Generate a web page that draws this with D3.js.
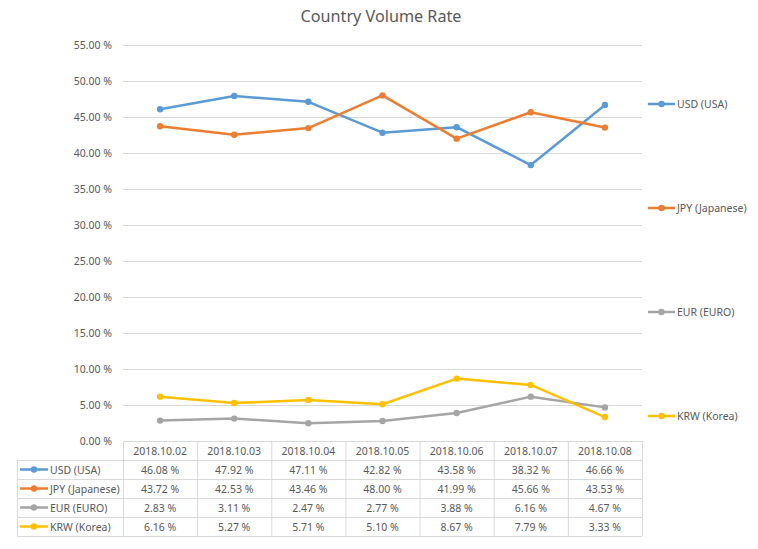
<!DOCTYPE html>
<html><head><meta charset="utf-8">
<script src="https://cdn.jsdelivr.net/npm/d3@7"></script>
<style>body{margin:0;background:#fff;} svg{display:block;} text{font-family:"Noto Sans","Open Sans",sans-serif;fill:#595959;}</style>
</head><body><svg id="c" width="758" height="549"></svg>
<script>
const categories = ["2018.10.02","2018.10.03","2018.10.04","2018.10.05","2018.10.06","2018.10.07","2018.10.08"];
const seriesNames = ["USD (USA)","JPY (Japanese)","EUR (EURO)","KRW (Korea)"];
const usd = [46.08,47.92,47.11,42.82,43.58,38.32,46.66];
const jpy = [43.72,42.53,43.46,48.00,41.99,45.66,43.53];
const eur = [2.83,3.11,2.47,2.77,3.88,6.16,4.67];
const krw = [6.16,5.27,5.71,5.10,8.67,7.79,3.33];
const yTicks = [0,5,10,15,20,25,30,35,40,45,50,55];
const colors = ["#5B9BD5","#ED7D31","#A5A5A5","#FFC000"];
const series = [usd,jpy,eur,krw].map((v,i)=>({name:seriesNames[i],values:v,color:colors[i]}));

const svg = d3.select("#c");
const L=123,R=642,T=45,B=441;
const x = d3.scaleBand().domain(categories).range([L,R]);
const y = d3.scaleLinear().domain([0,55]).range([B,T]);
const fmt = v => v.toFixed(2)+" %";

svg.append("text").attr("x",381).attr("y",22).attr("text-anchor","middle")
  .style("font-size","16.2px").text("Country Volume Rate");

// gridlines
svg.append("g").selectAll("line").data(yTicks).join("line")
  .attr("x1",L).attr("x2",R).attr("y1",d=>y(d)+0.5).attr("y2",d=>y(d)+0.5)
  .attr("stroke","#D9D9D9").attr("stroke-width",1);
svg.append("g").selectAll("text").data(yTicks).join("text")
  .attr("x",112).attr("y",d=>y(d)+4).attr("text-anchor","end")
  .style("font-size","10.5px").text(d=>fmt(d));

// lines
const line = d3.line().x((d,i)=>x(categories[i])+x.bandwidth()/2).y(d=>y(d));
series.forEach(s=>{
  const g = svg.append("g");
  g.append("path").attr("d",line(s.values)).attr("fill","none")
    .attr("stroke",s.color).attr("stroke-width",2.5).attr("stroke-linejoin","round");
  g.selectAll("circle").data(s.values).join("circle")
    .attr("cx",(d,i)=>x(categories[i])+x.bandwidth()/2).attr("cy",d=>y(d))
    .attr("r",3.2).attr("fill",s.color);
});

// right legend
const legY = [104,208,312,416];
series.forEach((s,i)=>{
  const g = svg.append("g").attr("transform",`translate(648,${legY[i]})`);
  g.append("line").attr("x1",0).attr("x2",27).attr("stroke",s.color).attr("stroke-width",2.5);
  g.append("circle").attr("cx",13.5).attr("r",3.2).attr("fill",s.color);
  g.append("text").attr("x",29).attr("y",4).style("font-size","10.5px").text(s.name);
});

// data table
const rowH=19, tTop=B, tLeft=17;
const tb = svg.append("g");
const stroke="#D9D9D9";
tb.append("line").attr("x1",L).attr("x2",R).attr("y1",tTop+0.5).attr("y2",tTop+0.5).attr("stroke",stroke);
for(let r=1;r<=5;r++){
  tb.append("line").attr("x1",tLeft).attr("x2",R).attr("y1",tTop+r*rowH+0.5).attr("y2",tTop+r*rowH+0.5).attr("stroke",stroke);
}
tb.append("line").attr("x1",tLeft+0.5).attr("x2",tLeft+0.5).attr("y1",tTop+rowH).attr("y2",tTop+5*rowH+0.5).attr("stroke",stroke);
categories.forEach((c,i)=>{
  tb.append("line").attr("x1",x(c)+0.5).attr("x2",x(c)+0.5).attr("y1",tTop).attr("y2",tTop+5*rowH).attr("stroke",stroke);
});
tb.append("line").attr("x1",R+0.5).attr("x2",R+0.5).attr("y1",tTop).attr("y2",tTop+5*rowH).attr("stroke",stroke);
categories.forEach(c=>{
  tb.append("text").attr("x",x(c)+x.bandwidth()/2).attr("y",tTop+rowH/2+4).attr("text-anchor","middle")
    .style("font-size","10.5px").text(c);
});
series.forEach((s,r)=>{
  const yy = tTop+(r+1)*rowH+rowH/2;
  tb.append("line").attr("x1",20).attr("x2",48).attr("y1",yy).attr("y2",yy).attr("stroke",s.color).attr("stroke-width",2.5);
  tb.append("circle").attr("cx",34).attr("cy",yy).attr("r",3.2).attr("fill",s.color);
  tb.append("text").attr("x",50).attr("y",yy+4).style("font-size","10.5px").text(s.name);
  s.values.forEach((v,i)=>{
    tb.append("text").attr("x",x(categories[i])+x.bandwidth()/2).attr("y",yy+4).attr("text-anchor","middle")
      .style("font-size","10.5px").text(fmt(v));
  });
});
</script></body></html>
